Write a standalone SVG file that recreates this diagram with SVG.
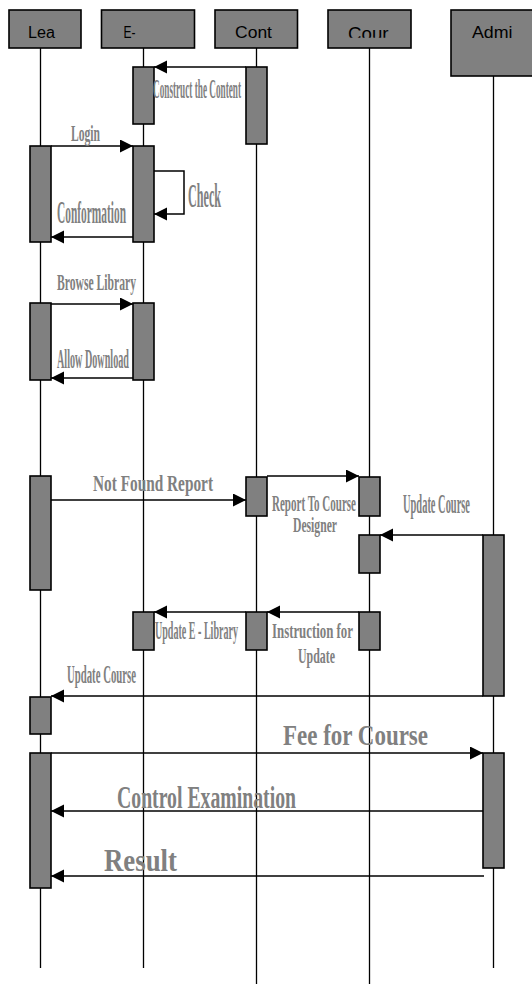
<svg xmlns="http://www.w3.org/2000/svg" width="532" height="984" viewBox="0 0 532 984">
<style>
.box{fill:#808080;stroke:#000;stroke-width:1.6}
.act{fill:#808080;stroke:#000;stroke-width:1.6}
.life{stroke:#000;stroke-width:1.3;fill:none}
.msg{stroke:#000;stroke-width:1.5;fill:none;marker-end:url(#ah)}
.hd{font-family:"Liberation Sans",Arial,sans-serif;fill:#000}
.lb{font-family:"Liberation Serif","Times New Roman",serif;font-weight:bold;fill:#808080}
</style>
<defs>
<marker id="ah" markerUnits="userSpaceOnUse" markerWidth="14" markerHeight="14" refX="13" refY="6.5" orient="auto">
<path d="M0,0 L13,6.5 L0,13 z" fill="#000"/>
</marker>
<clipPath id="courclip"><rect x="322" y="10" width="90" height="27.8"/></clipPath>
</defs>
<rect width="532" height="984" fill="#fff"/>
<g id="lifelines">
<line class="life" x1="40.5" y1="48" x2="40.5" y2="968"/>
<line class="life" x1="143.5" y1="48" x2="143.5" y2="968"/>
<line class="life" x1="256.5" y1="48" x2="256.5" y2="984"/>
<line class="life" x1="369.5" y1="48" x2="369.5" y2="984"/>
<line class="life" x1="493.5" y1="76" x2="493.5" y2="968"/>
</g>
<g id="node-lea">
<rect class="box" x="9" y="10" width="72" height="38"/>
<text class="hd" x="28" y="38" font-size="16" textLength="27" lengthAdjust="spacingAndGlyphs">Lea</text>
</g>
<g id="node-elib">
<rect class="box" x="101.5" y="10" width="93" height="38"/>
<text class="hd" x="123.5" y="38" font-size="16" textLength="12" lengthAdjust="spacingAndGlyphs">E-</text>
</g>
<g id="node-cont">
<rect class="box" x="215" y="10" width="82.5" height="38"/>
<text class="hd" x="235" y="38" font-size="17" textLength="37" lengthAdjust="spacingAndGlyphs">Cont</text>
</g>
<g id="node-cour">
<rect class="box" x="328" y="10" width="83" height="38"/>
<text class="hd" x="348" y="39.5" font-size="18.5" textLength="40.5" lengthAdjust="spacingAndGlyphs" clip-path="url(#courclip)">Cour</text>
</g>
<g id="node-admi">
<rect class="box" x="451" y="10" width="90" height="66"/>
<text class="hd" x="472" y="38" font-size="17" textLength="40.5" lengthAdjust="spacingAndGlyphs">Admi</text>
</g>
<g id="activations">
<rect class="act" x="133" y="67" width="21" height="57"/>
<rect class="act" x="246" y="67" width="21" height="77"/>
<rect class="act" x="30" y="146" width="21" height="96"/>
<rect class="act" x="133" y="146" width="21" height="96"/>
<rect class="act" x="30" y="303" width="21" height="77"/>
<rect class="act" x="133" y="303" width="21" height="77"/>
<rect class="act" x="30" y="476" width="21" height="114"/>
<rect class="act" x="246" y="477" width="21" height="39"/>
<rect class="act" x="359" y="477" width="21" height="39"/>
<rect class="act" x="359" y="535" width="21" height="38"/>
<rect class="act" x="483" y="535" width="21" height="161"/>
<rect class="act" x="133" y="612" width="21" height="38"/>
<rect class="act" x="246" y="612" width="21" height="38"/>
<rect class="act" x="359" y="612" width="21" height="38"/>
<rect class="act" x="30" y="697" width="21" height="37"/>
<rect class="act" x="30" y="753" width="21" height="135"/>
<rect class="act" x="483" y="753" width="21" height="115"/>
</g>
<g id="connectors">
<path class="msg" d="M246,67 H154"/>
<path class="msg" d="M51,146 H133"/>
<path class="msg" d="M154,171 H184 V214 H154"/>
<path class="msg" d="M133,237 H51"/>
<path class="msg" d="M51,304 H133"/>
<path class="msg" d="M133,378 H51"/>
<path class="msg" d="M51,500 H246"/>
<path class="msg" d="M267,476 H359"/>
<path class="msg" d="M483,535 H380"/>
<path class="msg" d="M359,612 H267"/>
<path class="msg" d="M246,612 H154"/>
<path class="msg" d="M483,696 H51"/>
<path class="msg" d="M51,753 H483"/>
<path class="msg" d="M483,811 H51"/>
<path class="msg" d="M484,876 H51"/>
</g>
<g id="labels">
<text class="lb" x="153" y="98" font-size="27" textLength="88" lengthAdjust="spacingAndGlyphs">Construct the Content</text>
<text class="lb" x="71" y="141" font-size="24" textLength="29" lengthAdjust="spacingAndGlyphs">Login</text>
<text class="lb" x="188" y="206.5" font-size="34" textLength="33" lengthAdjust="spacingAndGlyphs">Check</text>
<text class="lb" x="57" y="223" font-size="31" textLength="69" lengthAdjust="spacingAndGlyphs">Conformation</text>
<text class="lb" x="57" y="290" font-size="23" textLength="79" lengthAdjust="spacingAndGlyphs">Browse Library</text>
<text class="lb" x="57" y="368" font-size="27" textLength="72" lengthAdjust="spacingAndGlyphs">Allow Download</text>
<text class="lb" x="93" y="491" font-size="23" textLength="120" lengthAdjust="spacingAndGlyphs">Not Found Report</text>
<text class="lb" x="272" y="511" font-size="24" textLength="84" lengthAdjust="spacingAndGlyphs">Report To Course</text>
<text class="lb" x="293" y="532" font-size="20" textLength="44" lengthAdjust="spacingAndGlyphs">Designer</text>
<text class="lb" x="403" y="513" font-size="27" textLength="67" lengthAdjust="spacingAndGlyphs">Update Course</text>
<text class="lb" x="155" y="639" font-size="26" textLength="83" lengthAdjust="spacingAndGlyphs">Update E - Library</text>
<text class="lb" x="272" y="638" font-size="22" textLength="81" lengthAdjust="spacingAndGlyphs">Instruction for</text>
<text class="lb" x="298" y="663" font-size="22" textLength="37" lengthAdjust="spacingAndGlyphs">Update</text>
<text class="lb" x="67" y="683" font-size="25" textLength="69" lengthAdjust="spacingAndGlyphs">Update Course</text>
<text class="lb" x="283" y="745" font-size="29" textLength="145" lengthAdjust="spacingAndGlyphs">Fee for Course</text>
<text class="lb" x="117" y="808" font-size="31" textLength="179" lengthAdjust="spacingAndGlyphs">Control Examination</text>
<text class="lb" x="104" y="870.5" font-size="32" textLength="73" lengthAdjust="spacingAndGlyphs">Result</text>
</g>
</svg>
